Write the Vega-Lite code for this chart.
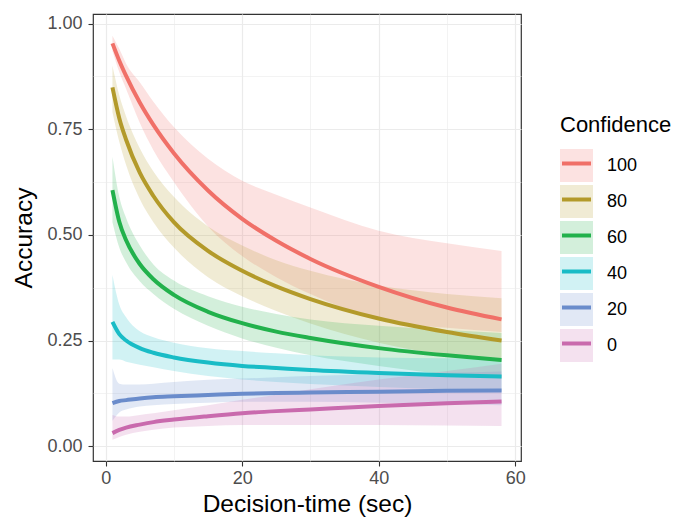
{
  "$schema": "https://vega.github.io/schema/vega-lite/v6.json",
  "width": 428,
  "height": 447,
  "autosize": "none",
  "padding": {"left": 93, "top": 14, "right": 167, "bottom": 57},
  "background": "white",
  "config": {
    "font": "Liberation Sans",
    "view": {"stroke": "#333333", "strokeWidth": 1.2},
    "axis": {
      "domain": false,
      "grid": true,
      "gridColor": "#EBEBEB",
      "tickColor": "#333333",
      "tickSize": 5,
      "tickWidth": 1.1,
      "labelColor": "#4D4D4D",
      "labelFontSize": 18,
      "labelFont": "Liberation Sans",
      "titleFontSize": 24.5,
      "titleFontWeight": "normal",
      "titleColor": "#000000",
      "titleFont": "Liberation Sans",
      "labelOverlap": false,
      "labelFlush": false
    },
    "legend": {"titleFont": "Liberation Sans", "labelFont": "Liberation Sans"}
  },
  "datasets": {
    "band": [
      {"t": 1, "conf": "100", "lo": 0.935, "hi": 0.971},
      {"t": 2, "conf": "100", "lo": 0.885, "hi": 0.94},
      {"t": 3, "conf": "100", "lo": 0.845, "hi": 0.905},
      {"t": 5, "conf": "100", "lo": 0.765, "hi": 0.861},
      {"t": 7, "conf": "100", "lo": 0.70, "hi": 0.815},
      {"t": 10, "conf": "100", "lo": 0.625, "hi": 0.755},
      {"t": 15, "conf": "100", "lo": 0.52, "hi": 0.68},
      {"t": 20, "conf": "100", "lo": 0.45, "hi": 0.628},
      {"t": 25, "conf": "100", "lo": 0.40, "hi": 0.595},
      {"t": 30, "conf": "100", "lo": 0.36, "hi": 0.565},
      {"t": 40, "conf": "100", "lo": 0.30, "hi": 0.51},
      {"t": 50, "conf": "100", "lo": 0.28, "hi": 0.48},
      {"t": 58, "conf": "100", "lo": 0.27, "hi": 0.462},
      {"t": 1, "conf": "80", "lo": 0.79, "hi": 0.90},
      {"t": 2, "conf": "80", "lo": 0.72, "hi": 0.83},
      {"t": 3, "conf": "80", "lo": 0.665, "hi": 0.78},
      {"t": 5, "conf": "80", "lo": 0.585, "hi": 0.705},
      {"t": 7, "conf": "80", "lo": 0.53, "hi": 0.65},
      {"t": 10, "conf": "80", "lo": 0.47, "hi": 0.59},
      {"t": 15, "conf": "80", "lo": 0.40, "hi": 0.52},
      {"t": 20, "conf": "80", "lo": 0.355, "hi": 0.475},
      {"t": 25, "conf": "80", "lo": 0.32, "hi": 0.44},
      {"t": 30, "conf": "80", "lo": 0.29, "hi": 0.415},
      {"t": 40, "conf": "80", "lo": 0.245, "hi": 0.38},
      {"t": 50, "conf": "80", "lo": 0.215, "hi": 0.36},
      {"t": 58, "conf": "80", "lo": 0.20, "hi": 0.35},
      {"t": 1, "conf": "60", "lo": 0.53, "hi": 0.685},
      {"t": 2, "conf": "60", "lo": 0.47, "hi": 0.59},
      {"t": 3, "conf": "60", "lo": 0.435, "hi": 0.54},
      {"t": 5, "conf": "60", "lo": 0.39, "hi": 0.475},
      {"t": 7, "conf": "60", "lo": 0.36, "hi": 0.43},
      {"t": 10, "conf": "60", "lo": 0.325, "hi": 0.392},
      {"t": 15, "conf": "60", "lo": 0.285, "hi": 0.355},
      {"t": 20, "conf": "60", "lo": 0.255, "hi": 0.33},
      {"t": 25, "conf": "60", "lo": 0.233, "hi": 0.313},
      {"t": 30, "conf": "60", "lo": 0.215, "hi": 0.30},
      {"t": 40, "conf": "60", "lo": 0.19, "hi": 0.285},
      {"t": 50, "conf": "60", "lo": 0.17, "hi": 0.275},
      {"t": 58, "conf": "60", "lo": 0.16, "hi": 0.268},
      {"t": 1, "conf": "40", "lo": 0.205, "hi": 0.405},
      {"t": 2, "conf": "40", "lo": 0.205, "hi": 0.335},
      {"t": 3, "conf": "40", "lo": 0.20, "hi": 0.305},
      {"t": 5, "conf": "40", "lo": 0.193, "hi": 0.272},
      {"t": 7, "conf": "40", "lo": 0.187, "hi": 0.258},
      {"t": 10, "conf": "40", "lo": 0.178, "hi": 0.245},
      {"t": 15, "conf": "40", "lo": 0.166, "hi": 0.232},
      {"t": 20, "conf": "40", "lo": 0.158, "hi": 0.225},
      {"t": 25, "conf": "40", "lo": 0.152, "hi": 0.22},
      {"t": 30, "conf": "40", "lo": 0.147, "hi": 0.215},
      {"t": 40, "conf": "40", "lo": 0.14, "hi": 0.21},
      {"t": 50, "conf": "40", "lo": 0.134, "hi": 0.208},
      {"t": 58, "conf": "40", "lo": 0.13, "hi": 0.208},
      {"t": 1, "conf": "20", "lo": 0.06, "hi": 0.185},
      {"t": 2, "conf": "20", "lo": 0.08, "hi": 0.148},
      {"t": 3, "conf": "20", "lo": 0.087, "hi": 0.146},
      {"t": 5, "conf": "20", "lo": 0.094, "hi": 0.146},
      {"t": 7, "conf": "20", "lo": 0.097, "hi": 0.148},
      {"t": 10, "conf": "20", "lo": 0.10, "hi": 0.152},
      {"t": 15, "conf": "20", "lo": 0.103, "hi": 0.157},
      {"t": 20, "conf": "20", "lo": 0.105, "hi": 0.16},
      {"t": 25, "conf": "20", "lo": 0.105, "hi": 0.163},
      {"t": 30, "conf": "20", "lo": 0.105, "hi": 0.166},
      {"t": 40, "conf": "20", "lo": 0.103, "hi": 0.17},
      {"t": 50, "conf": "20", "lo": 0.10, "hi": 0.174},
      {"t": 58, "conf": "20", "lo": 0.097, "hi": 0.177},
      {"t": 1, "conf": "0", "lo": 0.015, "hi": 0.074},
      {"t": 2, "conf": "0", "lo": 0.022, "hi": 0.07},
      {"t": 3, "conf": "0", "lo": 0.027, "hi": 0.07},
      {"t": 5, "conf": "0", "lo": 0.034, "hi": 0.074},
      {"t": 7, "conf": "0", "lo": 0.039, "hi": 0.078},
      {"t": 10, "conf": "0", "lo": 0.044, "hi": 0.085},
      {"t": 15, "conf": "0", "lo": 0.048, "hi": 0.097},
      {"t": 20, "conf": "0", "lo": 0.05, "hi": 0.11},
      {"t": 25, "conf": "0", "lo": 0.05, "hi": 0.122},
      {"t": 30, "conf": "0", "lo": 0.05, "hi": 0.135},
      {"t": 40, "conf": "0", "lo": 0.05, "hi": 0.158},
      {"t": 50, "conf": "0", "lo": 0.049, "hi": 0.178},
      {"t": 58, "conf": "0", "lo": 0.048, "hi": 0.195}
    ],
    "fit": [
      {"t": 1, "conf": "100", "acc": 0.953},
      {"t": 2, "conf": "100", "acc": 0.912},
      {"t": 3, "conf": "100", "acc": 0.876},
      {"t": 5, "conf": "100", "acc": 0.813},
      {"t": 7, "conf": "100", "acc": 0.760},
      {"t": 10, "conf": "100", "acc": 0.693},
      {"t": 15, "conf": "100", "acc": 0.605},
      {"t": 20, "conf": "100", "acc": 0.538},
      {"t": 25, "conf": "100", "acc": 0.486},
      {"t": 30, "conf": "100", "acc": 0.443},
      {"t": 40, "conf": "100", "acc": 0.377},
      {"t": 50, "conf": "100", "acc": 0.328},
      {"t": 58, "conf": "100", "acc": 0.300},
      {"t": 1, "conf": "80", "acc": 0.849},
      {"t": 2, "conf": "80", "acc": 0.776},
      {"t": 3, "conf": "80", "acc": 0.725},
      {"t": 5, "conf": "80", "acc": 0.647},
      {"t": 7, "conf": "80", "acc": 0.592},
      {"t": 10, "conf": "80", "acc": 0.530},
      {"t": 15, "conf": "80", "acc": 0.462},
      {"t": 20, "conf": "80", "acc": 0.415},
      {"t": 25, "conf": "80", "acc": 0.378},
      {"t": 30, "conf": "80", "acc": 0.348},
      {"t": 40, "conf": "80", "acc": 0.302},
      {"t": 50, "conf": "80", "acc": 0.270},
      {"t": 58, "conf": "80", "acc": 0.250},
      {"t": 1, "conf": "60", "acc": 0.606},
      {"t": 2, "conf": "60", "acc": 0.531},
      {"t": 3, "conf": "60", "acc": 0.487},
      {"t": 5, "conf": "60", "acc": 0.431},
      {"t": 7, "conf": "60", "acc": 0.395},
      {"t": 10, "conf": "60", "acc": 0.358},
      {"t": 15, "conf": "60", "acc": 0.318},
      {"t": 20, "conf": "60", "acc": 0.291},
      {"t": 25, "conf": "60", "acc": 0.271},
      {"t": 30, "conf": "60", "acc": 0.256},
      {"t": 40, "conf": "60", "acc": 0.232},
      {"t": 50, "conf": "60", "acc": 0.215},
      {"t": 58, "conf": "60", "acc": 0.204},
      {"t": 1, "conf": "40", "acc": 0.294},
      {"t": 2, "conf": "40", "acc": 0.265},
      {"t": 3, "conf": "40", "acc": 0.250},
      {"t": 5, "conf": "40", "acc": 0.232},
      {"t": 7, "conf": "40", "acc": 0.221},
      {"t": 10, "conf": "40", "acc": 0.210},
      {"t": 15, "conf": "40", "acc": 0.198},
      {"t": 20, "conf": "40", "acc": 0.190},
      {"t": 25, "conf": "40", "acc": 0.185},
      {"t": 30, "conf": "40", "acc": 0.180},
      {"t": 40, "conf": "40", "acc": 0.173},
      {"t": 50, "conf": "40", "acc": 0.168},
      {"t": 58, "conf": "40", "acc": 0.165},
      {"t": 1, "conf": "20", "acc": 0.102},
      {"t": 2, "conf": "20", "acc": 0.107},
      {"t": 3, "conf": "20", "acc": 0.109},
      {"t": 5, "conf": "20", "acc": 0.113},
      {"t": 7, "conf": "20", "acc": 0.116},
      {"t": 10, "conf": "20", "acc": 0.118},
      {"t": 15, "conf": "20", "acc": 0.121},
      {"t": 20, "conf": "20", "acc": 0.124},
      {"t": 25, "conf": "20", "acc": 0.126},
      {"t": 30, "conf": "20", "acc": 0.127},
      {"t": 40, "conf": "20", "acc": 0.129},
      {"t": 50, "conf": "20", "acc": 0.131},
      {"t": 58, "conf": "20", "acc": 0.132},
      {"t": 1, "conf": "0", "acc": 0.031},
      {"t": 2, "conf": "0", "acc": 0.0385},
      {"t": 3, "conf": "0", "acc": 0.044},
      {"t": 5, "conf": "0", "acc": 0.051},
      {"t": 7, "conf": "0", "acc": 0.057},
      {"t": 10, "conf": "0", "acc": 0.063},
      {"t": 15, "conf": "0", "acc": 0.071},
      {"t": 20, "conf": "0", "acc": 0.078},
      {"t": 25, "conf": "0", "acc": 0.083},
      {"t": 30, "conf": "0", "acc": 0.087},
      {"t": 40, "conf": "0", "acc": 0.095},
      {"t": 50, "conf": "0", "acc": 0.1015},
      {"t": 58, "conf": "0", "acc": 0.106}
    ]
  },
  "layer": [
    {
      "data": {"name": "band"},
      "mark": {"type": "area", "opacity": 0.2, "interpolate": "monotone"},
      "encoding": {
        "x": {
          "field": "t", "type": "quantitative", "title": "Decision-time (sec)",
          "scale": {"domain": [-1.85, 60.85], "nice": false, "zero": false},
          "axis": {
            "values": [0, 10, 20, 30, 40, 50, 60],
            "format": "d",
            "labelExpr": "datum.value % 20 === 0 ? datum.label : ''",
            "tickOpacity": {"condition": {"test": "datum.value % 20 === 0", "value": 1}, "value": 0},
            "gridWidth": {"condition": {"test": "datum.value % 20 === 0", "value": 1.2}, "value": 0.6},
            "labelPadding": 3,
            "titlePadding": 5
          }
        },
        "y": {
          "field": "lo", "type": "quantitative", "title": "Accuracy",
          "scale": {"domain": [-0.035, 1.0225], "nice": false, "zero": false},
          "axis": {
            "values": [0, 0.125, 0.25, 0.375, 0.5, 0.625, 0.75, 0.875, 1],
            "format": ".2f",
            "labelExpr": "(datum.value * 8) % 2 === 0 ? datum.label : ''",
            "tickOpacity": {"condition": {"test": "(datum.value * 8) % 2 === 0", "value": 1}, "value": 0},
            "gridWidth": {"condition": {"test": "(datum.value * 8) % 2 === 0", "value": 1.2}, "value": 0.6},
            "labelPadding": 6,
            "titlePadding": 10
          }
        },
        "y2": {"field": "hi"},
        "fill": {
          "field": "conf", "type": "nominal",
          "sort": ["100", "80", "60", "40", "20", "0"],
          "scale": {"range": ["#F07068", "#B39A2A", "#22B14C", "#19BCC6", "#6A8CCB", "#C96AAD"]},
          "legend": {
            "orient": "none", "legendX": 467, "legendY": 101,
            "title": "Confidence", "titleFontSize": 22, "titleFontWeight": "normal", "titleColor": "#000000",
            "titlePadding": 12,
            "labelFontSize": 18, "labelColor": "#000000", "labelOffset": 14,
            "symbolType": "M-1,-1H1V1H-1Z", "symbolSize": 1089, "symbolOpacity": 0.2,
            "symbolStrokeWidth": 0, "symbolStrokeColor": "transparent",
            "clipHeight": 33, "rowPadding": 3
          }
        }
      }
    },
    {
      "data": {"name": "fit"},
      "mark": {"type": "line", "strokeWidth": 4, "interpolate": "monotone"},
      "encoding": {
        "x": {"field": "t", "type": "quantitative", "title": "Decision-time (sec)"},
        "y": {"field": "acc", "type": "quantitative", "title": "Accuracy"},
        "stroke": {
          "field": "conf", "type": "nominal",
          "sort": ["100", "80", "60", "40", "20", "0"],
          "scale": {"range": ["#F07068", "#B39A2A", "#22B14C", "#19BCC6", "#6A8CCB", "#C96AAD"]},
          "legend": {
            "orient": "none", "legendX": 467, "legendY": 133,
            "title": null,
            "labelFontSize": 18, "labelExpr": "''", "labelOffset": 14,
            "symbolType": "M-1,-0.88M1,0.88M-0.88,0H0.88", "symbolSize": 1089,
            "symbolStrokeWidth": 4, "symbolFillColor": "transparent", "symbolOffset": -2,
            "clipHeight": 33, "rowPadding": 3
          }
        }
      }
    }
  ]
}
